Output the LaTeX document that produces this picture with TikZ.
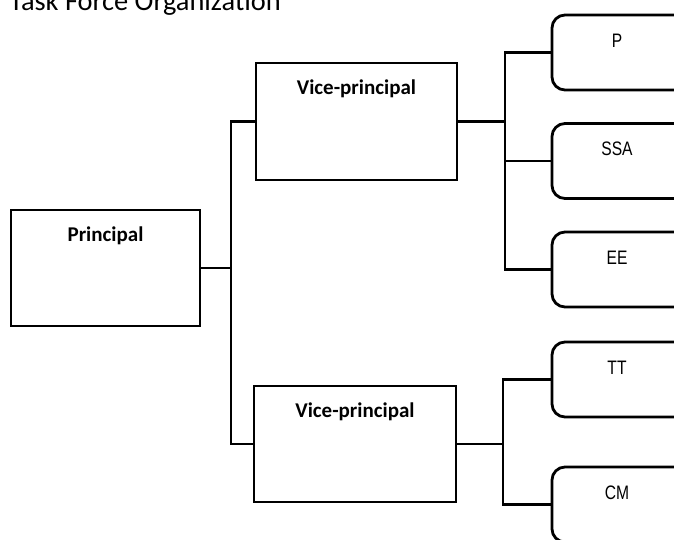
\documentclass[tikz,border=0pt]{standalone}
\usepackage{fontspec}
\setmainfont{Carlito}
\newfontfamily\narrowfont{Liberation Sans}
\begin{document}
\begin{tikzpicture}[x=1pt,y=-1pt,
  line width=2.8pt,
  mainbox/.style={draw, rectangle, inner sep=0pt, outer sep=0pt},
  subbox/.style={draw, rectangle, rounded corners=13pt, inner sep=0pt, outer sep=0pt,
     minimum width=140pt, minimum height=75pt},
  boldlab/.style={font=\fontsize{21}{24}\selectfont\bfseries, inner sep=0pt, anchor=base},
  narrowlab/.style={font=\narrowfont\fontsize{19.5}{22}\selectfont, inner sep=0pt, anchor=base},
  conn/.style={draw, line width=2.8pt}]
\clip (0,0) rectangle (674,539);
\fill[white] (0,0) rectangle (674,539);
% title
\node[anchor=base west, inner sep=0pt, font=\fontsize{28.4}{32}\selectfont] (title) at (8,10) {Task Force Organization};
% main boxes
\node[mainbox, minimum width=189pt, minimum height=116pt] (prin) at (105.5,268) {};
\node[mainbox, minimum width=201pt, minimum height=117pt] (vp1) at (356.5,121.5) {};
\node[mainbox, minimum width=202pt, minimum height=116pt] (vp2) at (355,444) {};
\node[boldlab] (prinlab) at ([yshift=-31pt]prin.north) {Principal};
\node[boldlab] (vp1lab) at ([yshift=-31pt]vp1.north) {Vice-principal};
\node[boldlab] (vp2lab) at ([yshift=-31pt]vp2.north) {Vice-principal};
% sub boxes
\node[subbox] (p) at (622,52.5) {};
\node[subbox] (ssa) at (622,161) {};
\node[subbox] (ee) at (622,269.5) {};
\node[subbox] (tt) at (622,379.5) {};
\node[subbox] (cm) at (622,504.5) {};
\node[narrowlab] (plab) at ([xshift=-5pt,yshift=-32pt]p.north) {\scalebox{0.8}[1]{P}};
\node[narrowlab] (ssalab) at ([xshift=-5pt,yshift=-32pt]ssa.north) {\scalebox{0.8}[1]{SSA}};
\node[narrowlab] (eelab) at ([xshift=-5pt,yshift=-32pt]ee.north) {\scalebox{0.8}[1]{EE}};
\node[narrowlab] (ttlab) at ([xshift=-5pt,yshift=-32pt]tt.north) {\scalebox{0.8}[1]{TT}};
\node[narrowlab] (cmlab) at ([xshift=-5pt,yshift=-32pt]cm.north) {\scalebox{0.8}[1]{CM}};
% trunks
\coordinate (t1) at (231,268);
\coordinate (t2) at (505,121.5);
\coordinate (t3) at (503,444);
\draw[conn] (prin.east) -- (t1);
\draw[conn] (t1) |- (vp1.west);
\draw[conn] (t1) |- (vp2.west);
\draw[conn] (vp1.east) -- (t2);
\draw[conn] (t2) |- (p.west);
\draw[conn] (t2) |- (ssa.west);
\draw[conn] (t2) |- (ee.west);
\draw[conn] (vp2.east) -- (t3);
\draw[conn] (t3) |- (tt.west);
\draw[conn] (t3) |- (cm.west);
\end{tikzpicture}
\end{document}
